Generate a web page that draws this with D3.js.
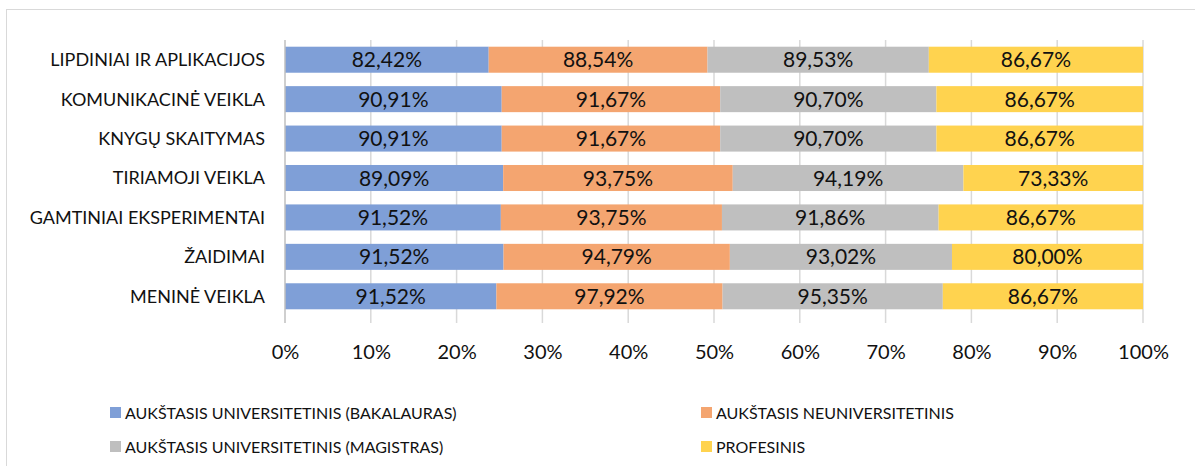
<!DOCTYPE html>
<html>
<head>
<meta charset="utf-8">
<script src="https://cdn.jsdelivr.net/npm/d3@7"></script>
<style>
  body { margin: 0; background: #fff; }
  text { font-family: Lato, "Open Sans", sans-serif; fill: #111; }
</style>
</head>
<body>
<script>
var categories = [
    "LIPDINIAI IR APLIKACIJOS",
    "KOMUNIKACINĖ VEIKLA",
    "KNYGŲ SKAITYMAS",
    "TIRIAMOJI VEIKLA",
    "GAMTINIAI EKSPERIMENTAI",
    "ŽAIDIMAI",
    "MENINĖ VEIKLA"
];
var seriesNames = [
    "AUKŠTASIS UNIVERSITETINIS (BAKALAURAS)",
    "AUKŠTASIS NEUNIVERSITETINIS",
    "AUKŠTASIS UNIVERSITETINIS (MAGISTRAS)",
    "PROFESINIS"
];
var bakalauras = [82.42, 90.91, 90.91, 89.09, 91.52, 91.52, 91.52];
var neuniversitetinis = [88.54, 91.67, 91.67, 93.75, 93.75, 94.79, 97.92];
var magistras = [89.53, 90.70, 90.70, 94.19, 91.86, 93.02, 95.35];
var profesinis = [86.67, 86.67, 86.67, 73.33, 86.67, 80.00, 86.67];
var tickValues = [0, 0.1, 0.2, 0.3, 0.4, 0.5, 0.6, 0.7, 0.8, 0.9, 1];

var colors = ["#7F9FD7", "#F4A570", "#BFBFBF", "#FFD34F"];

var width = 1195, height = 466;
var margin = {left: 285, right: 52, top: 40, bottom: 150};
var bodyWidth = width - margin.left - margin.right;
var bodyHeight = height - margin.top - margin.bottom;

var svg = d3.select("body").append("svg")
    .attr("width", width).attr("height", height);

// chart frame
svg.append("rect")
    .attr("x", 6.5).attr("y", 9.5)
    .attr("width", width).attr("height", height)
    .attr("fill", "none").attr("stroke", "#D9D9D9");

var g = svg.append("g")
    .attr("transform", "translate(" + [margin.left, margin.top] + ")");

var rows = categories.map(function(c, i) {
    return {
        cat: c,
        vals: [bakalauras[i], neuniversitetinis[i], magistras[i], profesinis[i]]
    };
});

var xScale = d3.scaleLinear().domain([0, 1]).range([0, bodyWidth]);
var yScale = d3.scaleBand().domain(categories).range([0, bodyHeight]).paddingInner(0.34).paddingOuter(0.17);

var locale = d3.formatLocale({decimal: ",", thousands: " ", grouping: [3], currency: ["", ""]});
var fmt = locale.format(".2f");

// gridlines
g.selectAll(".grid").data(tickValues.slice(1)).enter()
    .append("line")
    .attr("x1", d => xScale(d)).attr("x2", d => xScale(d))
    .attr("y1", 0).attr("y2", bodyHeight + 7)
    .attr("stroke", "#D9D9D9").attr("stroke-width", 1.5);

// bars
rows.forEach(function(r) {
    var total = d3.sum(r.vals);
    var acc = 0;
    r.vals.forEach(function(v, j) {
        var x0 = acc / total;
        acc += v;
        var x1 = acc / total;
        g.append("rect")
            .attr("x", xScale(x0))
            .attr("y", yScale(r.cat))
            .attr("width", xScale(x1) - xScale(x0))
            .attr("height", yScale.bandwidth())
            .attr("fill", colors[j]);
        g.append("text")
            .attr("x", (xScale(x0) + xScale(x1)) / 2)
            .attr("y", yScale(r.cat) + yScale.bandwidth() / 2)
            .attr("dy", "0.36em")
            .attr("text-anchor", "middle")
            .style("font-size", "21px")
            .text(fmt(v) + "%");
    });
});

// vertical axis line
g.append("line")
    .attr("x1", 0).attr("x2", 0).attr("y1", 0).attr("y2", bodyHeight + 7)
    .attr("stroke", "#BFBFBF").attr("stroke-width", 1.5);

// category labels
g.selectAll(".cat").data(categories).enter()
    .append("text")
    .attr("x", -20)
    .attr("y", d => yScale(d) + yScale.bandwidth() / 2)
    .attr("dy", "0.36em")
    .attr("text-anchor", "end")
    .style("font-size", "18px")
    .text(d => d);

// x tick labels
var axisX = d3.axisBottom(xScale).tickValues(tickValues).tickSize(0).tickFormat(d3.format(".0%"));
var ax = g.append("g")
    .attr("transform", "translate(0," + bodyHeight + ")")
    .call(axisX);
ax.select(".domain").remove();
ax.selectAll("text")
    .attr("y", 29)
    .style("font-size", "20px")
    .style("font-family", "Lato, 'Open Sans', sans-serif")
    .attr("fill", "#111");

// legend
var legendPos = [[110, 413], [701, 413], [110, 447], [701, 447]];
seriesNames.forEach(function(s, i) {
    var lg = svg.append("g").attr("transform", "translate(" + legendPos[i] + ")");
    lg.append("rect").attr("x", 0).attr("y", -6).attr("width", 11).attr("height", 11).attr("fill", colors[i]);
    lg.append("text").attr("x", 15).attr("y", 0).attr("dy", "0.36em")
        .style("font-size", "16px").text(s);
});
</script>
</body>
</html>
